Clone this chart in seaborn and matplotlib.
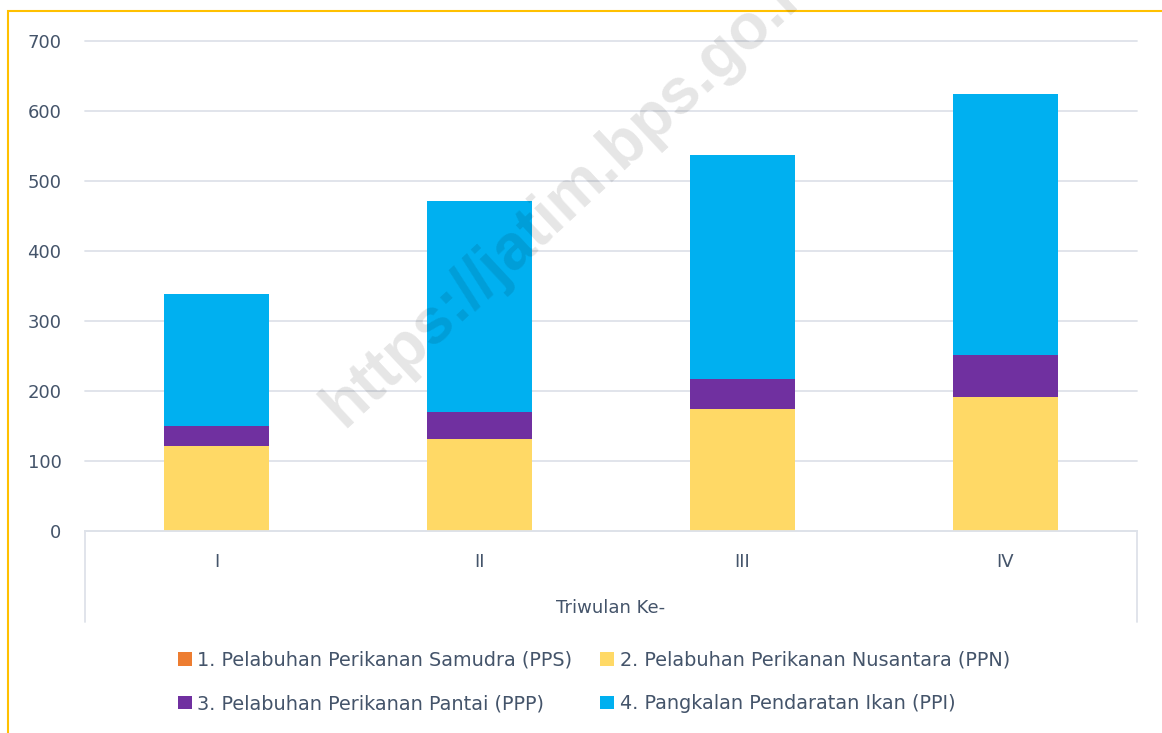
import pandas as pd
import matplotlib.pyplot as plt
import seaborn as sns
from matplotlib.patches import Rectangle

sns.set_theme(style="white")
plt.rcParams['font.family'] = ['DejaVu Sans']

# data (triwulan I-IV)
triwulan = ['I', 'II', 'III', 'IV']
pps = [0, 0, 0, 0]
ppn = [121, 132, 174, 192]
ppp = [29, 38, 43, 60]
ppi = [188, 301, 320, 373]

labels = ['1. Pelabuhan Perikanan Samudra (PPS)',
          '2. Pelabuhan Perikanan Nusantara (PPN)',
          '3. Pelabuhan Perikanan Pantai (PPP)',
          '4. Pangkalan Pendaratan Ikan (PPI)']
colors = ['#ED7D31', '#FFD966', '#7030A0', '#00B0F0']
txt = '#44546A'
grid = '#DEE2E9'

df = pd.DataFrame({'triwulan': triwulan, 'pps': pps, 'ppn': ppn, 'ppp': ppp, 'ppi': ppi})
# cumulative tops for stacking (drawn from tallest to shortest)
df['c1'] = df['pps']
df['c2'] = df['c1'] + df['ppn']
df['c3'] = df['c2'] + df['ppp']
df['c4'] = df['c3'] + df['ppi']

fig = plt.figure(figsize=(11.62, 7.33), dpi=100)
ax = fig.add_axes([85 / 1162, 1 - 531 / 733, (1137 - 85) / 1162, 490 / 733])

for col, lab, c in zip(['c4', 'c3', 'c2', 'c1'], labels[::-1], colors[::-1]):
    sns.barplot(data=df, x='triwulan', y=col, color=c, width=0.4, saturation=1,
                label=lab, ax=ax, linewidth=0)

ax.set_ylim(0, 700)
ax.set_xlim(-0.5, 3.5)
ax.set_yticks(range(0, 701, 100))
ax.yaxis.grid(True, color=grid, linewidth=1.3)
for gl in ax.get_ygridlines():
    gl.set_clip_on(False)
ax.set_axisbelow(True)
for s in ['top', 'right', 'left']:
    ax.spines[s].set_visible(False)
ax.spines['bottom'].set_color(grid)
ax.spines['bottom'].set_linewidth(1.3)
ax.tick_params(axis='both', length=0, labelsize=13, colors=txt)
ax.tick_params(axis='y', pad=17)
ax.tick_params(axis='x', pad=16)
ax.set_ylabel('')
ax.set_xlabel('Triwulan Ke-', fontsize=13, color=txt, labelpad=20)

# category axis box sides
for xa in [0, 1]:
    ax.plot([xa, xa], [0, -0.186], transform=ax.transAxes, color=grid,
            linewidth=1.3, clip_on=False)

# legend: PPS, PPN on first row, PPP, PPI on second
h, l = ax.get_legend_handles_labels()
lk = dict(zip(l, h))
order = [labels[0], labels[2], labels[1], labels[3]]
if ax.get_legend() is not None:
    ax.get_legend().remove()
fig.legend([lk[o] for o in order], order, loc='center', ncol=2,
           bbox_to_anchor=(594 / 1162, 1 - 682 / 733), frameon=False,
           fontsize=13.9, labelcolor=txt, handlelength=0.7, handleheight=0.7,
           handletextpad=0.3, columnspacing=1.45, labelspacing=1.25)

# watermark
fig.text(344 / 1162, 1 - 428 / 733, 'https://jatim.bps.go.id', rotation=43,
         rotation_mode='anchor', ha='left', va='baseline', fontsize=46,
         fontweight='bold', family='Liberation Sans', color='black', alpha=0.1)

# yellow frame
fig.add_artist(Rectangle((8 / 1162, -0.1), 1.2, 1.1 - 11 / 733, transform=fig.transFigure,
                         fill=False, edgecolor='#FFC000', linewidth=1.5))

fig.savefig('out.png', dpi=100, facecolor='white')
